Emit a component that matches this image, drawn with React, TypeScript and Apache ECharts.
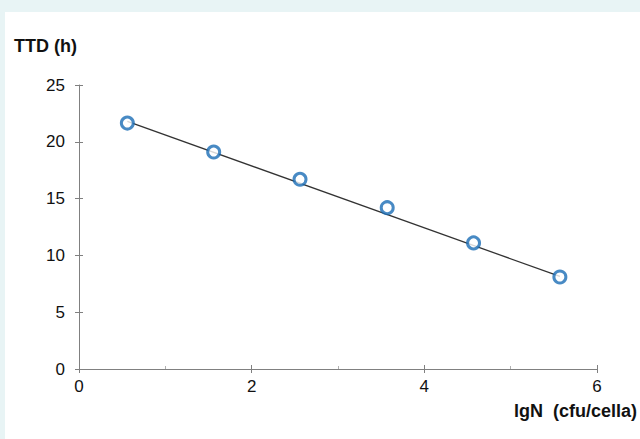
import React, { useEffect, useRef } from "react";
import * as echarts from "echarts";

const xValues = [0.56, 1.56, 2.56, 3.57, 4.57, 5.57];
const ttdValues = [21.65, 19.1, 16.7, 14.2, 11.1, 8.1];
const trendX = [0.56, 5.57];
const trendY = [21.8, 8.15];
const xTicks = [0, 2, 4, 6];
const yTicks = [0, 5, 10, 15, 20, 25];

export default function App() {
  const ref = useRef<HTMLDivElement>(null);
  useEffect(() => {
    if (!ref.current) return;
    const chart = echarts.init(ref.current, null, { renderer: "svg" });
    const axisColor = "#808080";
    const font = "Liberation Sans, Arial, sans-serif";
    const pts = xValues.map((x, i) => [x, ttdValues[i]]);
    const trend = trendX.map((x, i) => [x, trendY[i]]);
    chart.setOption({
      animation: false,
      backgroundColor: "transparent",
      textStyle: { fontFamily: font },
      graphic: [
        {
          type: "rect",
          z: -10,
          silent: true,
          shape: { x: 5, y: 12, width: 640, height: 440 },
          style: { fill: "#ffffff" },
        },
      ],
      grid: { left: 79, right: 43, top: 85, bottom: 70 },
      xAxis: [
        {
          type: "value",
          min: xTicks[0],
          max: xTicks[xTicks.length - 1],
          interval: 2,
          name: "lgN  (cfu/cella)",
          nameLocation: "end",
          nameGap: 40,
          nameTextStyle: {
            fontFamily: font,
            fontSize: 18,
            fontWeight: "bold",
            color: "#111",
            align: "right",
            verticalAlign: "top",
            padding: [33, 0, 0, 0],
          },
          axisLine: { show: true, lineStyle: { color: axisColor, width: 1 } },
          axisTick: { show: true, length: 4, lineStyle: { color: axisColor } },
          axisLabel: { fontSize: 17, color: "#111", margin: 9, fontFamily: font },
          splitLine: { show: false },
        },
        {
          type: "value",
          min: 0,
          max: 6,
          interval: 2,
          position: "bottom",
          axisLine: { show: false },
          axisTick: { show: true, inside: true, length: 4, lineStyle: { color: axisColor } },
          minorTick: { show: true, splitNumber: 2, length: 3, lineStyle: { color: "#b0b0b0" } },
          axisLabel: { show: false },
          splitLine: { show: false },
        },
      ],
      yAxis: [
        {
          type: "value",
          min: yTicks[0],
          max: yTicks[yTicks.length - 1],
          interval: 5,
          name: "TTD (h)",
          nameLocation: "end",
          nameGap: 30,
          nameTextStyle: {
            fontFamily: font,
            fontSize: 18,
            fontWeight: "bold",
            color: "#111",
            align: "right",
            padding: [0, 2, 0, 0],
          },
          axisLine: { show: true, lineStyle: { color: axisColor, width: 1 } },
          axisTick: { show: true, length: 4, lineStyle: { color: axisColor } },
          axisLabel: { fontSize: 17, color: "#111", margin: 14, fontFamily: font },
          splitLine: { show: false },
        },
        {
          type: "value",
          min: 0,
          max: 25,
          interval: 5,
          position: "left",
          axisLine: { show: false },
          axisTick: { show: true, inside: true, length: 4, lineStyle: { color: axisColor } },
          axisLabel: { show: false },
          splitLine: { show: false },
        },
      ],
      series: [
        {
          type: "line",
          data: trend,
          symbol: "none",
          lineStyle: { color: "#333333", width: 1.3 },
          z: 2,
        },
        {
          type: "scatter",
          data: pts,
          symbol: "circle",
          symbolSize: 12,
          itemStyle: { color: "#ffffff", borderColor: "#1a6db5", borderWidth: 3 },
          z: 3,
        },
      ],
    });
    return () => chart.dispose();
  }, []);
  return (
    <div
      style={{
        position: "fixed",
        left: 0,
        top: 0,
        width: 640,
        height: 439,
        background: "#e8f4f5",
      }}
    >
      <div ref={ref} style={{ width: 640, height: 439 }} />
    </div>
  );
}
